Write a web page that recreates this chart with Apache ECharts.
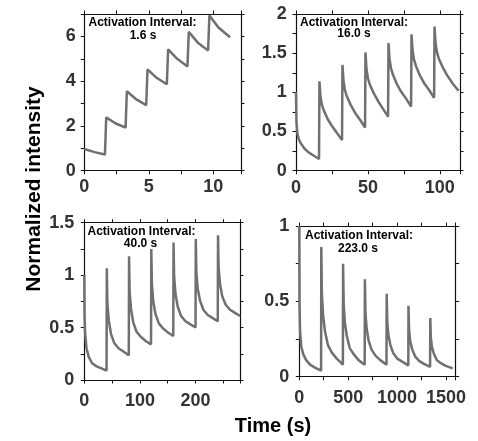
<!DOCTYPE html>
<html><head><meta charset="utf-8">
<script src="https://cdn.jsdelivr.net/npm/echarts@6/dist/echarts.min.js"></script>
<style>html,body{margin:0;padding:0;background:#fff}#c{width:478px;height:441px}</style>
</head><body><div id="c"></div>
<script>
// Panel 1: activation interval 1.6 s
const t1 = [0, 0.8, 1.6, 1.7, 2.4, 3.2, 3.3, 4.0, 4.8, 4.9, 5.6, 6.4, 6.5, 7.2, 8.0, 8.1, 8.8, 9.6, 9.7, 10.4, 11.3];
const v1 = [0.97, 0.83, 0.72, 2.38, 2.12, 1.92, 3.55, 3.2, 2.93, 4.53, 4.15, 3.86, 5.42, 5.0, 4.66, 6.2, 5.72, 5.37, 6.93, 6.4, 5.96];
// Panel 2: activation interval 16.0 s
const t2 = [0, 0.3, 1, 2, 3.3, 6, 9, 12.5, 16,
  16.3, 17, 18, 19.3, 22, 25, 28.5, 32,
  32.3, 33, 34, 35.3, 38, 41, 44.5, 48,
  48.3, 49, 50, 51.3, 54, 57, 60.5, 64,
  64.3, 65, 66, 67.3, 70, 73, 76.5, 80,
  80.3, 81, 82, 83.3, 86, 89, 92.5, 96,
  96.3, 97, 98, 99.3, 102, 105, 109, 113];
const v2 = [1.0, 0.62, 0.47, 0.4, 0.35, 0.28, 0.23, 0.19, 0.15,
  1.14, 0.95, 0.84, 0.77, 0.66, 0.57, 0.48, 0.39,
  1.35, 1.15, 1.03, 0.95, 0.84, 0.74, 0.65, 0.55,
  1.51, 1.3, 1.18, 1.1, 0.99, 0.89, 0.79, 0.69,
  1.63, 1.43, 1.31, 1.23, 1.11, 1.01, 0.92, 0.82,
  1.74, 1.54, 1.42, 1.34, 1.22, 1.12, 1.03, 0.93,
  1.84, 1.63, 1.51, 1.43, 1.32, 1.22, 1.11, 1.02];
// Panel 3: activation interval 40.0 s
const t3 = [0, 0.5, 1.5, 4, 8, 14, 22, 31, 40,
  40.5, 41.5, 44, 48, 54, 62, 71, 80,
  80.5, 81.5, 84, 88, 94, 102, 111, 120,
  120.5, 121.5, 124, 128, 134, 142, 151, 160,
  160.5, 161.5, 164, 168, 174, 182, 191, 200,
  200.5, 201.5, 204, 208, 214, 222, 231, 240,
  240.5, 241.5, 244, 248, 254, 262, 271, 280];
const v3 = [1.0, 0.6, 0.45, 0.3, 0.22, 0.16, 0.13, 0.11, 0.09,
  1.065, 0.73, 0.57, 0.44, 0.35, 0.3, 0.27, 0.235,
  1.18, 0.84, 0.68, 0.55, 0.46, 0.41, 0.37, 0.34,
  1.25, 0.92, 0.75, 0.63, 0.54, 0.49, 0.45, 0.42,
  1.31, 0.99, 0.82, 0.7, 0.61, 0.56, 0.53, 0.5,
  1.345, 1.03, 0.87, 0.76, 0.67, 0.62, 0.59, 0.56,
  1.38, 1.07, 0.92, 0.8, 0.72, 0.67, 0.64, 0.61];
// Panel 4: activation interval 223.0 s
const t4 = [0, 2, 8, 20, 40, 70, 110, 160, 223,
  225, 231, 243, 263, 293, 333, 383, 446,
  448, 454, 466, 486, 516, 556, 606, 669,
  671, 677, 689, 709, 739, 779, 829, 892,
  894, 900, 912, 932, 962, 1002, 1052, 1115,
  1117, 1123, 1135, 1155, 1185, 1225, 1275, 1338,
  1340, 1346, 1358, 1378, 1408, 1448, 1498, 1570];
const v4 = [1.0, 0.5, 0.3, 0.2, 0.15, 0.11, 0.08, 0.06, 0.04,
  0.86, 0.55, 0.41, 0.3, 0.21, 0.16, 0.12, 0.08,
  0.75, 0.48, 0.36, 0.27, 0.19, 0.15, 0.11, 0.08,
  0.646, 0.42, 0.32, 0.24, 0.18, 0.14, 0.11, 0.08,
  0.55, 0.36, 0.275, 0.21, 0.155, 0.12, 0.1, 0.075,
  0.47, 0.31, 0.235, 0.18, 0.135, 0.105, 0.085, 0.065,
  0.39, 0.255, 0.195, 0.15, 0.11, 0.09, 0.072, 0.055];

const intervalLabels = ['1.6 s', '16.0 s', '40.0 s', '223.0 s'];
const xMax = [12.15, 114, 280, 1600];
const yMax = [7, 2, 1.5, 1];
const xMajor = [5, 50, 100, 500];
const yMajor = [2, 0.5, 0.5, 0.5];
const timeData = [t1, t2, t3, t4];
const valueData = [v1, v2, v3, v4];

const FONT = '"Liberation Sans", Arial, Helvetica, sans-serif';
const grids = [
  {left: 84.3, top: 14, width: 156.7, height: 156.7},
  {left: 296, top: 14, width: 164, height: 156.7},
  {left: 84.3, top: 222.7, width: 155.7, height: 157.3},
  {left: 299.3, top: 226, width: 156.4, height: 150.7}
];
const xLabelMargin = [7, 8.5, 12.5, 12];
const yLabelMargin = [8.6, 9.3, 10, 10];
const titlePos = [
  [[142.5, 22.3], [143, 35.5]],
  [[354, 22.5], [354, 34]],
  [[141.5, 232], [140.5, 243.5]],
  [[359, 236], [358, 249]]
];

function isMajor(v, step) {
  const r = v / step;
  return Math.abs(r - Math.round(r)) < 1e-6;
}
const lineStyle = {color: '#111', width: 1.2};
const tick = {show: true, length: 3.5, lineStyle: {color: '#111', width: 1}};

const xAxis = [], yAxis = [], series = [], graphic = [];
for (let i = 0; i < 4; i++) {
  const xm = xMajor[i], ym = yMajor[i];
  const xBase = {type: 'value', gridIndex: i, min: 0, max: xMax[i], interval: xm / 2,
    splitLine: {show: false}, axisLine: {show: true, onZero: false, lineStyle}, axisTick: tick};
  xAxis.push(Object.assign({}, xBase, {position: 'bottom',
    axisLabel: {show: true, margin: xLabelMargin[i], color: '#333', fontWeight: 'bold', fontSize: 18, fontFamily: FONT,
      showMaxLabel: true, formatter: v => isMajor(v, xm) ? String(v) : ''}}));
  xAxis.push(Object.assign({}, xBase, {position: 'top', axisLabel: {show: false}}));
  const yBase = {type: 'value', gridIndex: i, min: 0, max: yMax[i], interval: ym / 2,
    splitLine: {show: false}, axisLine: {show: true, onZero: false, lineStyle}, axisTick: tick};
  yAxis.push(Object.assign({}, yBase, {position: 'left',
    axisLabel: {show: true, margin: yLabelMargin[i], color: '#333', fontWeight: 'bold', fontSize: 18, fontFamily: FONT,
      formatter: v => isMajor(v, ym) ? String(v) : ''}}));
  yAxis.push(Object.assign({}, yBase, {position: 'right', axisLabel: {show: false}}));
  const pts = timeData[i].map((t, k) => [t, valueData[i][k]]);
  series.push({type: 'line', xAxisIndex: 2 * i, yAxisIndex: 2 * i, data: pts, showSymbol: false,
    symbol: 'none', lineStyle: {color: '#707070', width: 2.5}, animation: false, clip: true});
  graphic.push({type: 'text', x: titlePos[i][0][0], y: titlePos[i][0][1],
    style: {text: 'Activation Interval:', fill: '#000', font: 'bold 12px ' + FONT,
      textAlign: 'center', textVerticalAlign: 'middle', align: 'center', verticalAlign: 'middle'}});
  graphic.push({type: 'text', x: titlePos[i][1][0], y: titlePos[i][1][1],
    style: {text: intervalLabels[i], fill: '#000', font: 'bold 12px ' + FONT,
      textAlign: 'center', textVerticalAlign: 'middle', align: 'center', verticalAlign: 'middle'}});
}
graphic.push({type: 'text', x: 34, y: 189, rotation: Math.PI / 2,
  style: {text: 'Normalized intensity', fill: '#000', font: 'bold 21px ' + FONT,
    textAlign: 'center', textVerticalAlign: 'middle', align: 'center', verticalAlign: 'middle'}});
graphic.push({type: 'text', x: 273, y: 426,
  style: {text: 'Time (s)', fill: '#000', font: 'bold 20px ' + FONT,
    textAlign: 'center', textVerticalAlign: 'middle', align: 'center', verticalAlign: 'middle'}});

const chart = echarts.init(document.getElementById('c'), null, {renderer: 'canvas'});
chart.setOption({animation: false, backgroundColor: '#fff', grid: grids, xAxis, yAxis, series, graphic});
</script>
</body></html>
